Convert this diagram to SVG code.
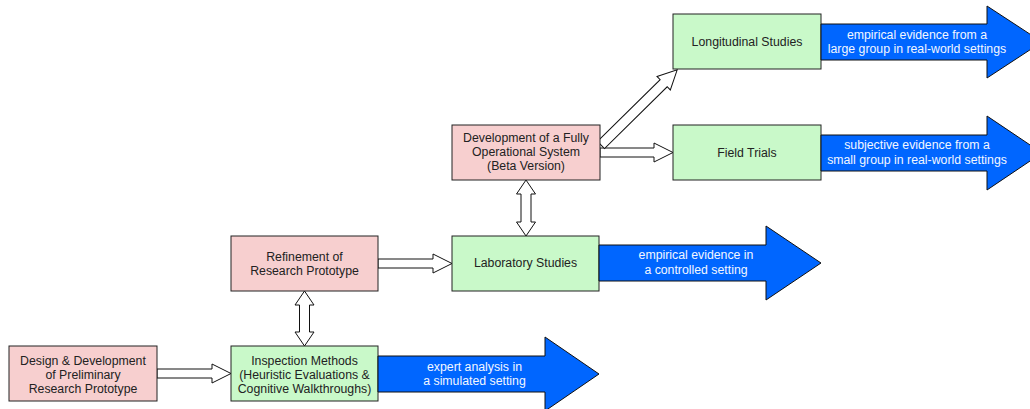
<svg xmlns="http://www.w3.org/2000/svg" width="1030" height="409" viewBox="0 0 1030 409">
<style>
  .pink { fill: #F7CFCF; stroke: #222; stroke-width: 1; }
  .green { fill: #C9F9C9; stroke: #222; stroke-width: 1; }
  .blue { fill: #0066FF; stroke: #111; stroke-width: 1; }
  .hollow { fill: #FFFFFF; stroke: #111; stroke-width: 1; stroke-linejoin: miter; }
  text { font-family: "Liberation Sans", Arial, sans-serif; font-size: 12.3px; text-anchor: middle; }
  .dark { fill: #222; }
  .light { fill: #F2F6FF; }
</style>
<rect width="1030" height="409" fill="#FFFFFF"/>
<g id="connectors">
  <polygon class="hollow" points="157,369 212,369 212,364 231,373.5 212,383 212,378 157,378"/>
  <polygon class="hollow" points="378,259 433,259 433,254 452,263.5 433,273 433,268 378,268"/>
  <polygon class="hollow" points="600,148 654,148 654,143 673,152.5 654,162 654,157 600,157"/>
  <polygon class="hollow" points="304.5,291 314,305 309.5,305 309.5,332 314,332 304.5,346 295,332 299.5,332 299.5,305 295,305"/>
  <polygon class="hollow" points="526,180 535.5,194 531,194 531,222 535.5,222 526,236 516.5,222 521,222 521,194 516.5,194"/>
  <polygon class="hollow" transform="translate(601,145) rotate(-44.6)" points="0,-5 88,-5 88,-9.5 107,0 88,9.5 88,5 0,5"/>
</g>
<g id="node-design">
  <rect class="pink" x="9" y="346" width="148" height="55"/>
  <text class="dark" x="83" y="364.5">Design &amp; Development</text>
  <text class="dark" x="83" y="378.5">of Preliminary</text>
  <text class="dark" x="83" y="392.5">Research Prototype</text>
</g>
<g id="node-inspection">
  <rect class="green" x="231" y="346" width="147" height="55"/>
  <text class="dark" x="304.5" y="364.5">Inspection Methods</text>
  <text class="dark" x="304.5" y="378.5">(Heuristic Evaluations &amp;</text>
  <text class="dark" x="304.5" y="392.5">Cognitive Walkthroughs)</text>
</g>
<g id="arrow-expert">
  <polygon class="blue" points="378,356 545,356 545,337 599,374 545,411 545,392 378,392"/>
  <text class="light" x="474.5" y="371">expert analysis in</text>
  <text class="light" x="474.5" y="385">a simulated setting</text>
</g>
<g id="node-refinement">
  <rect class="pink" x="231" y="236" width="147" height="55"/>
  <text class="dark" x="304.5" y="261">Refinement of</text>
  <text class="dark" x="304.5" y="275">Research Prototype</text>
</g>
<g id="node-lab">
  <rect class="green" x="452" y="236" width="147" height="55"/>
  <text class="dark" x="525.5" y="267">Laboratory Studies</text>
</g>
<g id="arrow-empirical-controlled">
  <polygon class="blue" points="599,245 766,245 766,226 821,263 766,300 766,281 599,281"/>
  <text class="light" x="696" y="259">empirical evidence in</text>
  <text class="light" x="696" y="274">a controlled setting</text>
</g>
<g id="node-beta">
  <rect class="pink" x="452" y="125" width="148" height="55"/>
  <text class="dark" x="526" y="142">Development of a Fully</text>
  <text class="dark" x="526" y="156">Operational System</text>
  <text class="dark" x="526" y="170">(Beta Version)</text>
</g>
<g id="node-longitudinal">
  <rect class="green" x="673" y="14" width="148" height="55"/>
  <text class="dark" x="747" y="46">Longitudinal Studies</text>
</g>
<g id="arrow-empirical-large">
  <polygon class="blue" points="821,24 987,24 987,6 1042,42 987,78 987,60 821,60"/>
  <text class="light" x="917" y="39">empirical evidence from a</text>
  <text class="light" x="917" y="53">large group in real-world settings</text>
</g>
<g id="node-field">
  <rect class="green" x="673" y="125" width="148" height="55"/>
  <text class="dark" x="747" y="157">Field Trials</text>
</g>
<g id="arrow-subjective-small">
  <polygon class="blue" points="821,135 987,135 987,116 1042,153 987,190 987,171 821,171"/>
  <text class="light" x="917" y="149">subjective evidence from a</text>
  <text class="light" x="917" y="164">small group in real-world settings</text>
</g>
</svg>
